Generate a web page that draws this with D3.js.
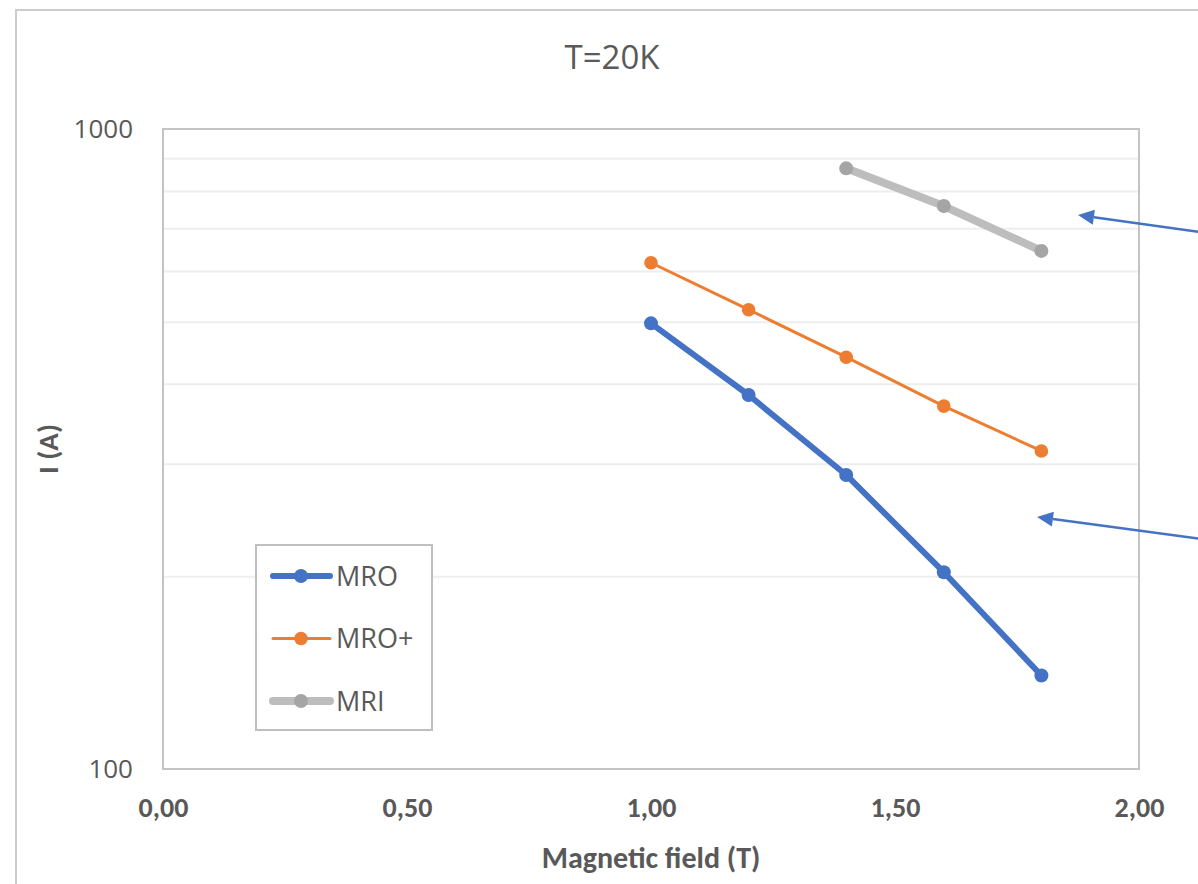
<!DOCTYPE html>
<html>
<head>
<meta charset="utf-8">
<script src="https://cdn.jsdelivr.net/npm/d3@7"></script>
<style>
  html, body { margin: 0; padding: 0; background: #fff; }
  svg { display: block; }
</style>
</head>
<body>
<svg id="chart" width="1198" height="884"></svg>
<script>
// ---- data ----
const chartTitle = "T=20K";
const xTitle = "Magnetic field (T)";
const yTitle = "I (A)";
const fieldValues = [1.0, 1.2, 1.4, 1.6, 1.8];
const mroValues = [497, 384, 288, 203, 140];
const mroPlusValues = [618, 522, 440, 369, 314];
const mriField = [1.4, 1.6, 1.8];
const mriValues = [868, 758, 645];
const seriesNames = ["MRO", "MRO+", "MRI"];
const xTickValues = [0, 0.5, 1.0, 1.5, 2.0];
const yTickValues = [100, 1000];
const yGridValues = [200, 300, 400, 500, 600, 700, 800, 900];

// ---- layout ----
const plot = { left: 163, top: 129, right: 1139, bottom: 769 };
const svg = d3.select("#chart");
const textColor = "#595959";
const labelFont = "'Open Sans', 'Noto Sans', sans-serif";
const boldFont = "Carlito, Lato, 'Open Sans', sans-serif";

const x = d3.scaleLinear().domain([0, 2]).range([plot.left, plot.right]);
const y = d3.scaleLog().domain([100, 1000]).range([plot.bottom, plot.top]);

// outer frame (runs off the page on right and bottom)
svg.append("rect")
  .attr("x", 16).attr("y", 10).attr("width", 1400).attr("height", 1000)
  .attr("fill", "#fff").attr("stroke", "#CCCCCC").attr("stroke-width", 2);

// gridlines
const grid = svg.append("g")
  .attr("transform", `translate(${plot.left},0)`)
  .call(d3.axisLeft(y).tickValues(yGridValues).tickSize(-(plot.right - plot.left)).tickFormat(""));
grid.select(".domain").remove();
grid.selectAll("line").attr("stroke", "#EEEEEE").attr("stroke-width", 2);

// plot border
svg.append("rect")
  .attr("x", plot.left).attr("y", plot.top)
  .attr("width", plot.right - plot.left).attr("height", plot.bottom - plot.top)
  .attr("fill", "none").attr("stroke", "#C4C4C4").attr("stroke-width", 2);

// y axis labels
const yAxis = svg.append("g")
  .attr("transform", `translate(${plot.left},0)`)
  .call(d3.axisLeft(y).tickValues(yTickValues).tickSize(0).tickPadding(30).tickFormat(d3.format("d")));
yAxis.select(".domain").remove();
yAxis.selectAll("text")
  .attr("fill", textColor).style("font-family", labelFont).style("font-size", "26px");

// x axis labels
const xAxis = svg.append("g")
  .attr("transform", `translate(0,${plot.bottom})`)
  .call(d3.axisBottom(x).tickValues(xTickValues).tickSize(0).tickPadding(28)
    .tickFormat(d => d3.format(".2f")(d).replace(".", ",")));
xAxis.select(".domain").remove();
xAxis.selectAll("text")
  .attr("fill", textColor).style("font-family", boldFont).style("font-size", "28px").style("font-weight", "bold");

// titles
svg.append("text")
  .attr("x", 612).attr("y", 69).attr("text-anchor", "middle")
  .attr("fill", textColor).style("font-family", labelFont).style("font-size", "33px")
  .text(chartTitle);
svg.append("text")
  .attr("x", (plot.left + plot.right) / 2).attr("y", 868).attr("text-anchor", "middle")
  .attr("fill", textColor).style("font-family", boldFont).style("font-size", "30px").style("font-weight", "bold")
  .text(xTitle);
svg.append("text")
  .attr("transform", `translate(58,${(plot.top + plot.bottom) / 2}) rotate(-90)`)
  .attr("text-anchor", "middle")
  .attr("fill", textColor).style("font-family", boldFont).style("font-size", "29px").style("font-weight", "bold")
  .text(yTitle);

// series
const series = [
  { name: seriesNames[0], xs: fieldValues, ys: mroValues, line: "#4472C4", dot: "#4472C4", width: 6, r: 7 },
  { name: seriesNames[1], xs: fieldValues, ys: mroPlusValues, line: "#ED7D31", dot: "#ED7D31", width: 3, r: 6.8 },
  { name: seriesNames[2], xs: mriField, ys: mriValues, line: "#BDBDBD", dot: "#A5A5A5", width: 8, r: 7 }
];
const lineGen = d3.line().x(d => x(d[0])).y(d => y(d[1]));
series.forEach(s => {
  const pts = s.xs.map((v, i) => [v, s.ys[i]]);
  svg.append("path").datum(pts)
    .attr("d", lineGen).attr("fill", "none")
    .attr("stroke", s.line).attr("stroke-width", s.width)
    .attr("stroke-linejoin", "round").attr("stroke-linecap", "round");
  svg.selectAll(null).data(pts).enter().append("circle")
    .attr("cx", d => x(d[0])).attr("cy", d => y(d[1])).attr("r", s.r)
    .attr("fill", s.dot);
});

// legend
const leg = svg.append("g");
leg.append("rect").attr("x", 256).attr("y", 545).attr("width", 176).attr("height", 185)
  .attr("fill", "#fff").attr("stroke", "#BFBFBF").attr("stroke-width", 2);
series.forEach((s, i) => {
  const cy = 576 + i * 62.5;
  leg.append("line").attr("x1", 273).attr("x2", 330).attr("y1", cy).attr("y2", cy)
    .attr("stroke", s.line).attr("stroke-width", s.width).attr("stroke-linecap", "round");
  leg.append("circle").attr("cx", 301).attr("cy", cy).attr("r", s.r).attr("fill", s.dot);
  leg.append("text").attr("x", 336).attr("y", cy).attr("dy", "0.36em")
    .attr("fill", textColor).style("font-family", labelFont).style("font-size", "27px")
    .text(s.name);
});

// annotation arrows (start off-page to the right)
const arrows = [
  { x1: 1300, y1: 246, x2: 1078, y2: 215 },
  { x1: 1300, y1: 552, x2: 1037, y2: 517 }
];
arrows.forEach(a => {
  const ang = Math.atan2(a.y1 - a.y2, a.x1 - a.x2);
  const L = 16, Wd = 7.5;
  const bx = a.x2 + L * Math.cos(ang), by = a.y2 + L * Math.sin(ang);
  svg.append("line").attr("x1", a.x1).attr("y1", a.y1).attr("x2", bx).attr("y2", by)
    .attr("stroke", "#4472C4").attr("stroke-width", 2.5);
  const px = -Math.sin(ang) * Wd, py = Math.cos(ang) * Wd;
  svg.append("path")
    .attr("d", `M${a.x2},${a.y2} L${bx + px},${by + py} L${bx - px},${by - py} Z`)
    .attr("fill", "#4472C4");
});
</script>
</body>
</html>
